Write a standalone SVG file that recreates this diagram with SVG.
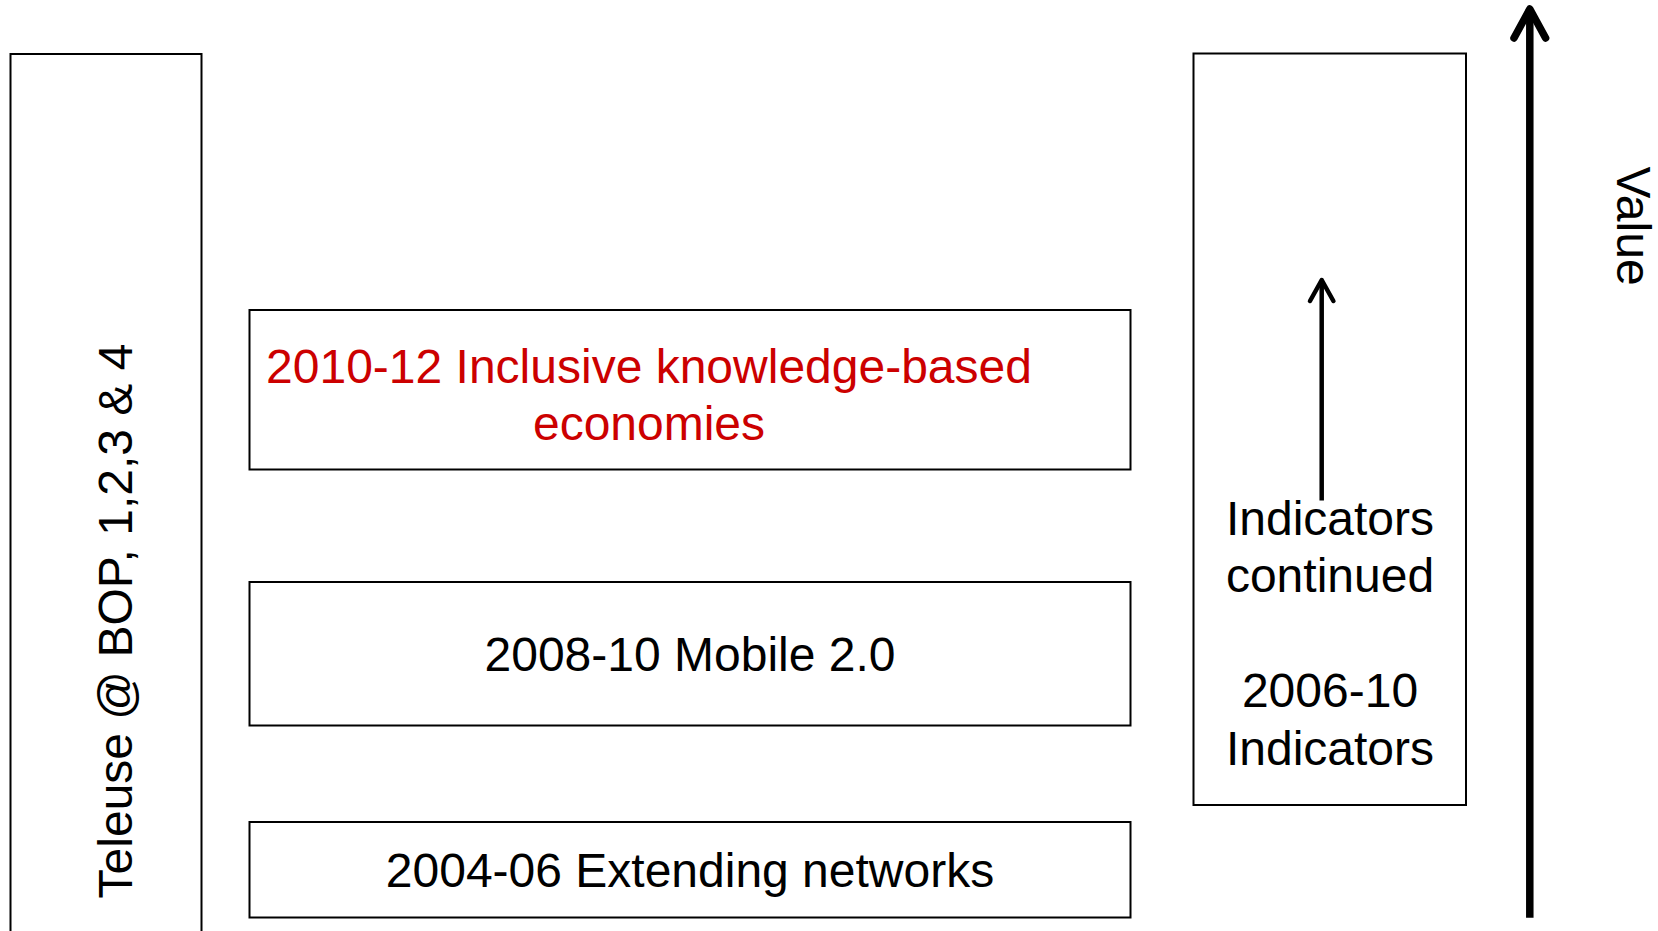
<svg xmlns="http://www.w3.org/2000/svg" width="1658" height="931" viewBox="0 0 1658 931">
<style>
.box{fill:#ffffff;stroke:#000000;stroke-width:2}
.t{font-family:"Liberation Sans",Arial,sans-serif;font-size:48px;fill:#000000;text-anchor:middle}
.red{fill:#CC0000}
.arr{fill:none;stroke:#000000;stroke-linecap:round;stroke-linejoin:round}
</style>
<rect width="1658" height="931" fill="#ffffff"/>
<g id="teleuse">
<rect class="box" x="10.5" y="54" width="191" height="900"/>
<text class="t" transform="translate(132,621) rotate(-90)" x="0" y="0">Teleuse @ BOP, 1,2,3 &amp; 4</text>
</g>
<g id="inclusive">
<rect class="box" x="249.5" y="310" width="881" height="159.5"/>
<text class="t red" x="649" y="383">2010-12 Inclusive knowledge-based</text>
<text class="t red" x="649" y="440">economies</text>
</g>
<g id="mobile">
<rect class="box" x="249.5" y="582" width="881" height="143.5"/>
<text class="t" x="690" y="671">2008-10 Mobile 2.0</text>
</g>
<g id="extending">
<rect class="box" x="249.5" y="822" width="881" height="95.5"/>
<text class="t" x="690" y="887">2004-06 Extending networks</text>
</g>
<g id="indicators">
<rect class="box" x="1193.5" y="53.5" width="272.5" height="751.5"/>
<text class="t" x="1330" y="535">Indicators</text>
<text class="t" x="1330" y="591.7">continued</text>
<text class="t" x="1330" y="706.5">2006-10</text>
<text class="t" x="1330" y="764.5">Indicators</text>
</g>
<g id="value-label">
<text class="t" transform="translate(1617,226) rotate(90)" x="0" y="0">Value</text>
</g>
<g id="connectors">
<line x1="1321.7" y1="500.5" x2="1321.7" y2="281" stroke="#000" stroke-width="4.5"/>
<polyline class="arr" stroke-width="4.5" points="1310,301 1321.7,280 1333.4,301"/>
<line x1="1529.8" y1="917.7" x2="1529.8" y2="10" stroke="#000" stroke-width="7.5"/>
<polyline class="arr" stroke-width="7.5" points="1514,38 1529.8,9 1545.6,38"/>
</g>
</svg>
